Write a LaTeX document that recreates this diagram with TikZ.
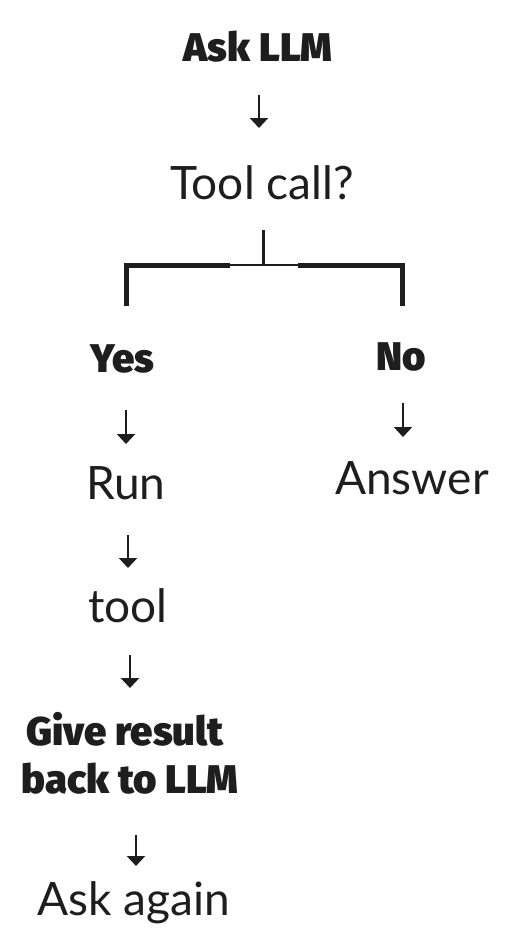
\documentclass[tikz,border=0pt]{standalone}
\usepackage{fontspec}
\setmainfont{Lato}
\newfontfamily\heavy{Fira Sans}[UprightFont=* Black]
\usetikzlibrary{arrows.meta}
\definecolor{ink}{HTML}{1E1E1E}
\tikzset{
  hand/.style={anchor=base, inner sep=0pt, text=ink, font=\fontsize{46}{50}\selectfont},
  bold/.style={anchor=base, inner sep=0pt, text=ink, font=\heavy\fontsize{40}{44}\selectfont},
  arr/.style={draw=ink, line width=2.8pt, -{Triangle[length=10pt,width=18pt]}},
  stemline/.style={draw=ink, line width=3pt},
  thinbar/.style={draw=ink, line width=2.8pt},
  thickbar/.style={draw=ink, line width=5pt}
}
\begin{document}
\begin{tikzpicture}[x=1pt,y=-1pt]
\useasboundingbox[fill=white] (0,0) rectangle (506,950);
% nodes
\node[bold] (ask) at (258,62) {Ask LLM};
\node[hand] (tc) at (262,199) {Tool call?};
\node[bold] (yes) at (122,372) {Yes};
\node[bold] (no) at (401,370) {No};
\node[hand] (ans) at (412,494) {Answer};
\node[hand] (run) at (126,499) {Run};
\node[hand] (tool) at (128,622) {tool};
\node[bold] (give) at (125,745) {Give result};
\node[bold] (back) at (130,793) {back to LLM};
\node[hand] (again) at (134,915) {Ask again};
% arrows (each starts just below its source node and ends above its target)
\draw[arr] ([shift={(1,33)}]ask.base) -- ++(0,33);
\draw[arr] ([shift={(4,38)}]yes.base) -- ++(0,34);
\draw[arr] ([shift={(2,33)}]no.base) -- ++(0,34);
\draw[arr] ([shift={(2,36)}]run.base) -- ++(0,33);
\draw[arr] ([shift={(2,33)}]tool.base) -- ++(0,33);
\draw[arr] ([shift={(6,42)}]back.base) -- ++(0,31);
% bracket
\coordinate (stemtop) at (263,230);
\coordinate (stembot) at (263,264);
\coordinate (jl) at (230,265);
\coordinate (jr) at (298,265);
\coordinate (ll) at (126,306);
\coordinate (rl) at (402,306);
\draw[stemline] (stemtop) -- (stembot);
\draw[thinbar] (jl) -- (jr);
\draw[thickbar] (ll) |- (jl);
\draw[thickbar] (rl) |- (jr);
\end{tikzpicture}
\end{document}
